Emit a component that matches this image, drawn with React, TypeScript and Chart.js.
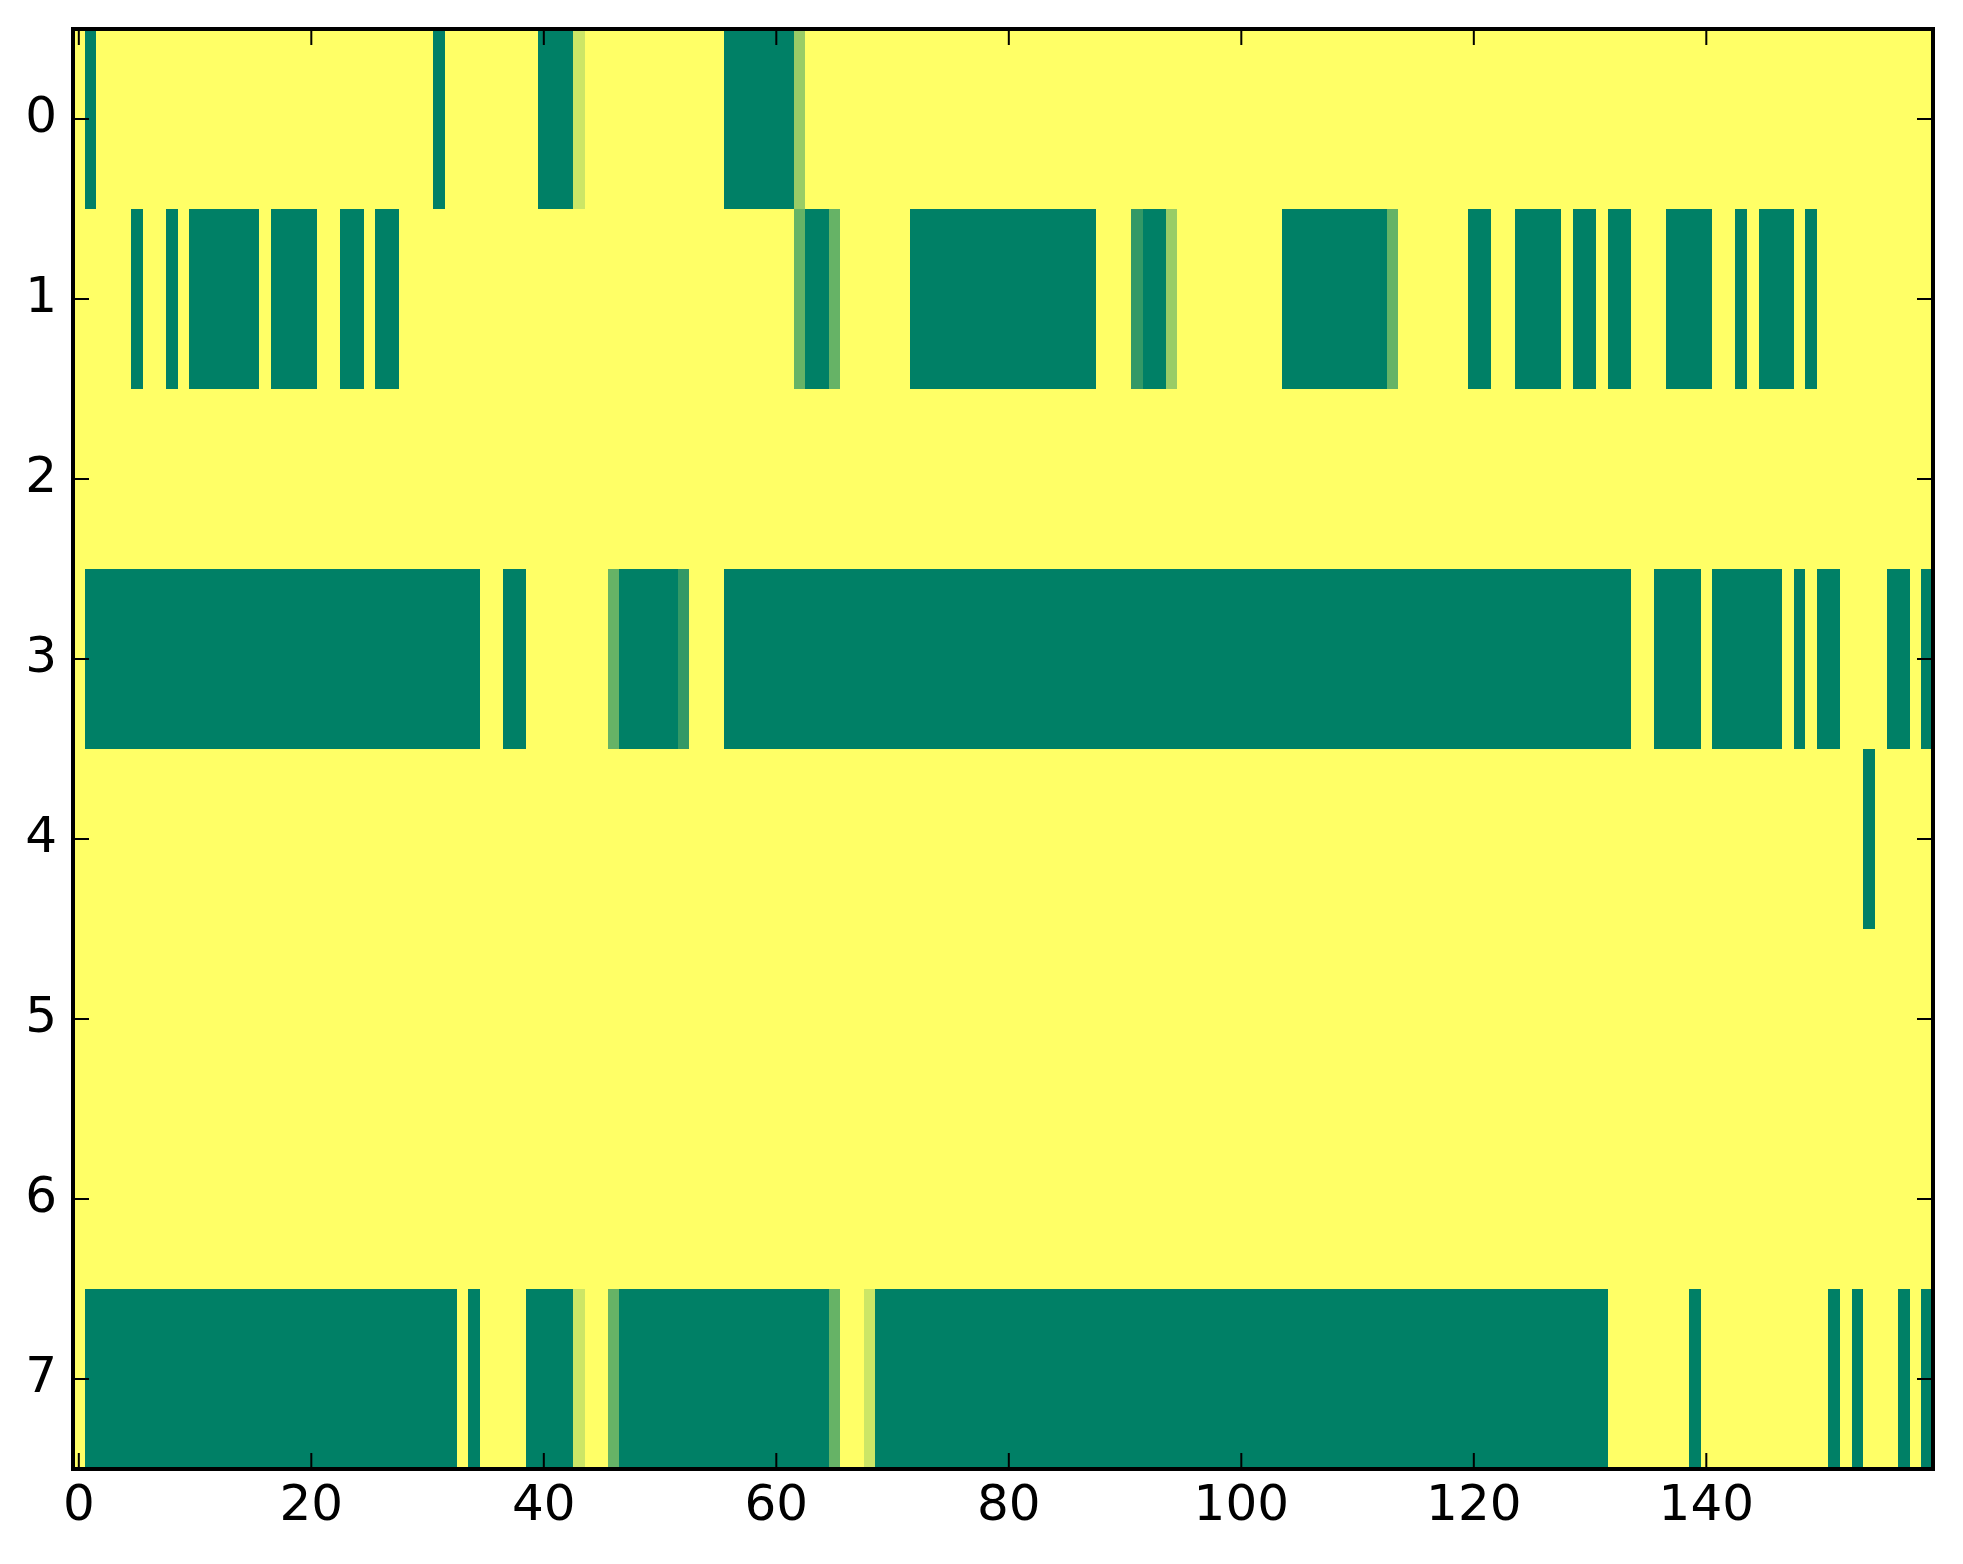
import React, { useEffect, useRef } from 'react';
import { Chart, registerables } from 'chart.js';

Chart.register(...registerables);

const N_COLS = 160;
const rowIndices = [0, 1, 2, 3, 4, 5, 6, 7];
const xTickValues = [0, 20, 40, 60, 80, 100, 120, 140];
const yTickValues = [0, 1, 2, 3, 4, 5, 6, 7];

// Each row: segments [startCol, endCol, value]; cells not listed have value 1.
const row0: [number, number, number][] = [
  [1, 1, 0], [31, 31, 0], [40, 42, 0], [43, 43, 0.8], [56, 61, 0], [62, 62, 0.6],
];
const row1: [number, number, number][] = [
  [5, 5, 0], [8, 8, 0], [10, 15, 0], [17, 20, 0], [23, 24, 0], [26, 27, 0],
  [62, 62, 0.4], [63, 64, 0], [65, 65, 0.4], [72, 87, 0], [91, 91, 0.2], [92, 93, 0],
  [94, 94, 0.6], [104, 112, 0], [113, 113, 0.4], [120, 121, 0], [124, 127, 0],
  [129, 130, 0], [132, 133, 0], [137, 140, 0], [143, 143, 0], [145, 147, 0], [149, 149, 0],
];
const row2: [number, number, number][] = [];
const row3: [number, number, number][] = [
  [1, 34, 0], [37, 38, 0], [46, 46, 0.4], [47, 51, 0], [52, 52, 0.2], [56, 133, 0],
  [136, 139, 0], [141, 146, 0], [148, 148, 0], [150, 151, 0], [156, 157, 0], [159, 159, 0],
];
const row4: [number, number, number][] = [[154, 154, 0]];
const row5: [number, number, number][] = [];
const row6: [number, number, number][] = [];
const row7: [number, number, number][] = [
  [1, 32, 0], [34, 34, 0], [39, 42, 0], [43, 43, 0.8], [46, 46, 0.4], [47, 64, 0],
  [65, 65, 0.4], [68, 68, 0.8], [69, 131, 0], [139, 139, 0], [151, 151, 0],
  [153, 153, 0], [157, 157, 0], [159, 159, 0],
];

const rowSegments = [row0, row1, row2, row3, row4, row5, row6, row7];

function buildTable(): number[][] {
  return rowSegments.map((segs) => {
    const arr = new Array(N_COLS).fill(1);
    segs.forEach(([s, e, v]) => {
      for (let c = s; c <= e; c++) arr[c] = v;
    });
    return arr;
  });
}

function summer(v: number): string {
  const r = Math.round(255 * v);
  const g = Math.round(255 * (0.5 + 0.5 * v));
  const b = 102;
  return `rgb(${r},${g},${b})`;
}

const W = 1963;
const H = 1564;

export default function App() {
  const ref = useRef<HTMLCanvasElement | null>(null);

  useEffect(() => {
    document.body.style.margin = '0';
    const canvas = ref.current;
    if (!canvas) return;
    const table = buildTable();

    const heatmapPlugin = {
      id: 'heatmap',
      beforeDatasetsDraw(chart: any) {
        const { ctx } = chart;
        const xs = chart.scales.x;
        const ys = chart.scales.y;
        ctx.save();
        rowIndices.forEach((r) => {
          const y0 = Math.round(ys.getPixelForValue(r - 0.5));
          const y1 = Math.round(ys.getPixelForValue(r + 0.5));
          for (let c = 0; c < N_COLS; c++) {
            const x0 = Math.round(xs.getPixelForValue(c - 0.5));
            const x1 = Math.round(xs.getPixelForValue(c + 0.5));
            ctx.fillStyle = summer(table[r][c]);
            ctx.fillRect(x0, Math.min(y0, y1), x1 - x0, Math.abs(y1 - y0));
          }
        });
        ctx.restore();
      },
    };

    const framePlugin = {
      id: 'frame',
      afterDraw(chart: any) {
        const { ctx, chartArea } = chart;
        const xs = chart.scales.x;
        const ys = chart.scales.y;
        const tickLen = 16;
        ctx.save();
        ctx.strokeStyle = '#000';
        ctx.lineWidth = 2;
        ctx.beginPath();
        xTickValues.forEach((v) => {
          const px = xs.getPixelForValue(v);
          ctx.moveTo(px, chartArea.bottom);
          ctx.lineTo(px, chartArea.bottom - tickLen);
          ctx.moveTo(px, chartArea.top);
          ctx.lineTo(px, chartArea.top + tickLen);
        });
        yTickValues.forEach((v) => {
          const py = ys.getPixelForValue(v);
          ctx.moveTo(chartArea.left, py);
          ctx.lineTo(chartArea.left + tickLen, py);
          ctx.moveTo(chartArea.right, py);
          ctx.lineTo(chartArea.right - tickLen, py);
        });
        ctx.stroke();
        ctx.lineWidth = 4;
        ctx.strokeRect(
          chartArea.left,
          chartArea.top,
          chartArea.right - chartArea.left,
          chartArea.bottom - chartArea.top
        );
        ctx.restore();
      },
    };

    const chart = new Chart(canvas, {
      type: 'scatter',
      data: { datasets: [{ data: [] }] },
      options: {
        animation: false,
        responsive: false,
        devicePixelRatio: 1,
        layout: { padding: { top: 29, right: 30, left: 0, bottom: 0 } },
        plugins: { legend: { display: false }, tooltip: { enabled: false } },
        scales: {
          x: {
            type: 'linear',
            position: 'bottom',
            min: -0.5,
            max: N_COLS - 0.5,
            grid: { display: false, drawTicks: false },
            border: { display: false },
            afterBuildTicks: (scale: any) => {
              scale.ticks = xTickValues.map((v) => ({ value: v }));
            },
            afterFit: (scale: any) => {
              scale.height = 95;
              scale.paddingLeft = 0;
              scale.paddingRight = 0;
            },
            ticks: {
              autoSkip: false,
              maxRotation: 0,
              padding: 8,
              color: '#000',
              font: { family: 'DejaVu Sans', size: 50 },
              callback: (v: any) => String(v),
            },
          },
          y: {
            type: 'linear',
            position: 'left',
            reverse: true,
            min: -0.5,
            max: rowIndices.length - 0.5,
            grid: { display: false, drawTicks: false },
            border: { display: false },
            afterBuildTicks: (scale: any) => {
              scale.ticks = yTickValues.map((v) => ({ value: v }));
            },
            afterFit: (scale: any) => {
              scale.width = 73;
              scale.paddingTop = 0;
              scale.paddingBottom = 0;
            },
            ticks: {
              autoSkip: false,
              padding: 16,
              color: '#000',
              font: { family: 'DejaVu Sans', size: 50 },
              callback: (v: any) => String(v),
            },
          },
        },
      },
      plugins: [heatmapPlugin, framePlugin],
    });

    return () => chart.destroy();
  }, []);

  return (
    <div style={{ width: W, height: H, background: '#fff' }}>
      <canvas ref={ref} width={W} height={H} style={{ width: W, height: H, display: 'block' }} />
    </div>
  );
}
